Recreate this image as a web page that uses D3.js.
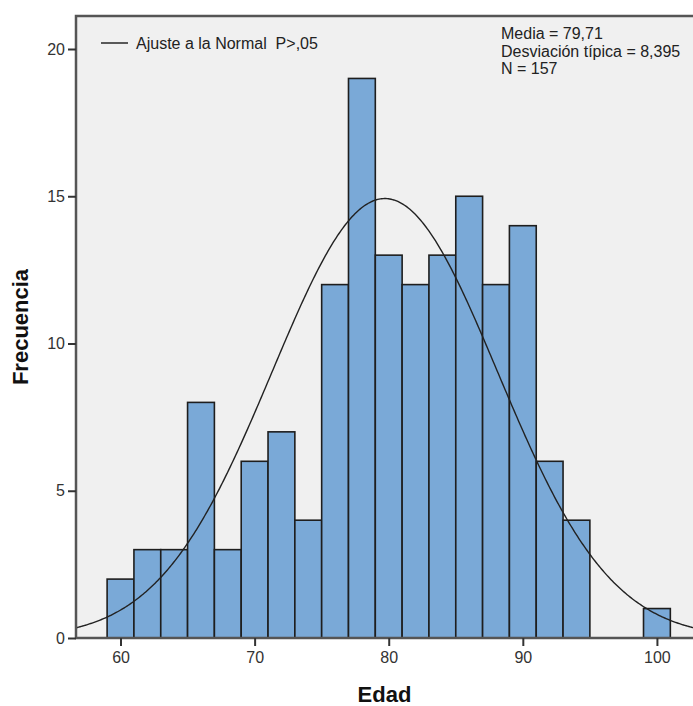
<!DOCTYPE html>
<html>
<head>
<meta charset="utf-8">
<script src="https://cdn.jsdelivr.net/npm/d3@7"></script>
<style>
  body { margin: 0; background: #fff; }
  text { font-family: "Liberation Sans", Arial, sans-serif; }
</style>
</head>
<body>
<div id="chart-area"></div>
<script>
// Edad, bins of width 2 (lower edge)
const binStarts = [59, 61, 63, 65, 67, 69, 71, 73, 75, 77, 79, 81, 83, 85, 87, 89, 91, 93, 95, 97, 99]
const counts    = [2, 3, 3, 8, 3, 6, 7, 4, 12, 19, 13, 12, 13, 15, 12, 14, 6, 4, 0, 0, 1]
const binWidth = 2
const xTicks = [60, 70, 80, 90, 100]
const yTicks = [0, 5, 10, 15, 20]
const media = 79.71
const desv = 8.395
const n = 157

const W = 693, H = 706
const MARGIN = { LEFT: 76, RIGHT: 0, TOP: 16, BOTTOM: 68 }
const WIDTH = W - MARGIN.LEFT - MARGIN.RIGHT
const HEIGHT = H - MARGIN.TOP - MARGIN.BOTTOM

const svg = d3.select("#chart-area").append("svg")
  .attr("width", W)
  .attr("height", H)

const g = svg.append("g")
  .attr("transform", `translate(${MARGIN.LEFT}, ${MARGIN.TOP})`)

const x = d3.scaleLinear()
  .domain([56.68, 56.68 + WIDTH / 13.41])
  .range([0, WIDTH])

const y = d3.scaleLinear()
  .domain([0, 20])
  .range([HEIGHT, HEIGHT - 20 * 29.45])

// plot background
g.append("rect")
  .attr("width", WIDTH)
  .attr("height", HEIGHT)
  .attr("fill", "#f0f0f0")

g.append("defs").append("clipPath").attr("id", "clip")
  .append("rect").attr("width", WIDTH).attr("height", HEIGHT)

// bars
g.selectAll("rect.bar")
  .data(binStarts.map((b, i) => ({ b, c: counts[i] })).filter(d => d.c > 0))
  .enter().append("rect")
  .attr("class", "bar")
  .attr("x", d => x(d.b))
  .attr("width", d => x(d.b + binWidth) - x(d.b))
  .attr("y", d => y(d.c))
  .attr("height", d => y(0) - y(d.c))
  .attr("fill", "#7aa9d7")
  .attr("stroke", "#1e1e1e")
  .attr("stroke-width", 1.6)

// normal fit curve
const xs = d3.range(x.domain()[0], x.domain()[1] + 0.1, 0.1)
const normal = v => n * binWidth / (desv * Math.sqrt(2 * Math.PI)) *
  Math.exp(-0.5 * Math.pow((v - media) / desv, 2))

g.append("path")
  .datum(xs)
  .attr("clip-path", "url(#clip)")
  .attr("fill", "none")
  .attr("stroke", "#222")
  .attr("stroke-width", 1.4)
  .attr("d", d3.line().x(d => x(d)).y(d => y(normal(d))))

// frame (left, top, bottom)
g.append("path")
  .attr("d", `M${WIDTH},0H0V${HEIGHT}H${WIDTH}`)
  .attr("fill", "none")
  .attr("stroke", "#555")
  .attr("stroke-width", 2.5)

// axes
const xAxisGroup = g.append("g")
  .attr("transform", `translate(0, ${HEIGHT})`)
  .call(d3.axisBottom(x).tickValues(xTicks).tickSize(8).tickPadding(6))
const yAxisGroup = g.append("g")
  .call(d3.axisLeft(y).tickValues(yTicks).tickSize(8).tickPadding(3))

;[xAxisGroup, yAxisGroup].forEach(a => {
  a.select(".domain").remove()
  a.selectAll("line").attr("stroke", "#333").attr("stroke-width", 2)
  a.selectAll("text")
    .attr("font-size", "16px")
    .attr("fill", "#333")
    .style("font-family", "'Liberation Sans', Arial, sans-serif")
})

// legend
g.append("line")
  .attr("x1", 25).attr("x2", 52)
  .attr("y1", 27).attr("y2", 27)
  .attr("stroke", "#333").attr("stroke-width", 1.6)
g.append("text")
  .attr("x", 60).attr("y", 33)
  .attr("font-size", "16px")
  .attr("fill", "#222")
  .attr("xml:space", "preserve")
  .text("Ajuste a la Normal  P>,05")

// stats
const stats = [`Media = ${String(media).replace(".", ",")}`,
  `Desviación típica = ${String(desv).replace(".", ",")}`,
  `N = ${n}`]
g.selectAll("text.stat")
  .data(stats)
  .enter().append("text")
  .attr("class", "stat")
  .attr("x", 425)
  .attr("y", (d, i) => 23 + i * 17.5)
  .attr("font-size", "16px")
  .attr("fill", "#222")
  .text(d => d)

// axis labels
svg.append("text")
  .attr("x", MARGIN.LEFT + WIDTH / 2)
  .attr("y", 702)
  .attr("text-anchor", "middle")
  .attr("font-size", "22px")
  .attr("font-weight", "bold")
  .attr("fill", "#111")
  .text("Edad")

svg.append("text")
  .attr("transform", `translate(28, ${MARGIN.TOP + HEIGHT / 2}) rotate(-90)`)
  .attr("text-anchor", "middle")
  .attr("font-size", "22px")
  .attr("font-weight", "bold")
  .attr("fill", "#111")
  .text("Frecuencia")
</script>
</body>
</html>
